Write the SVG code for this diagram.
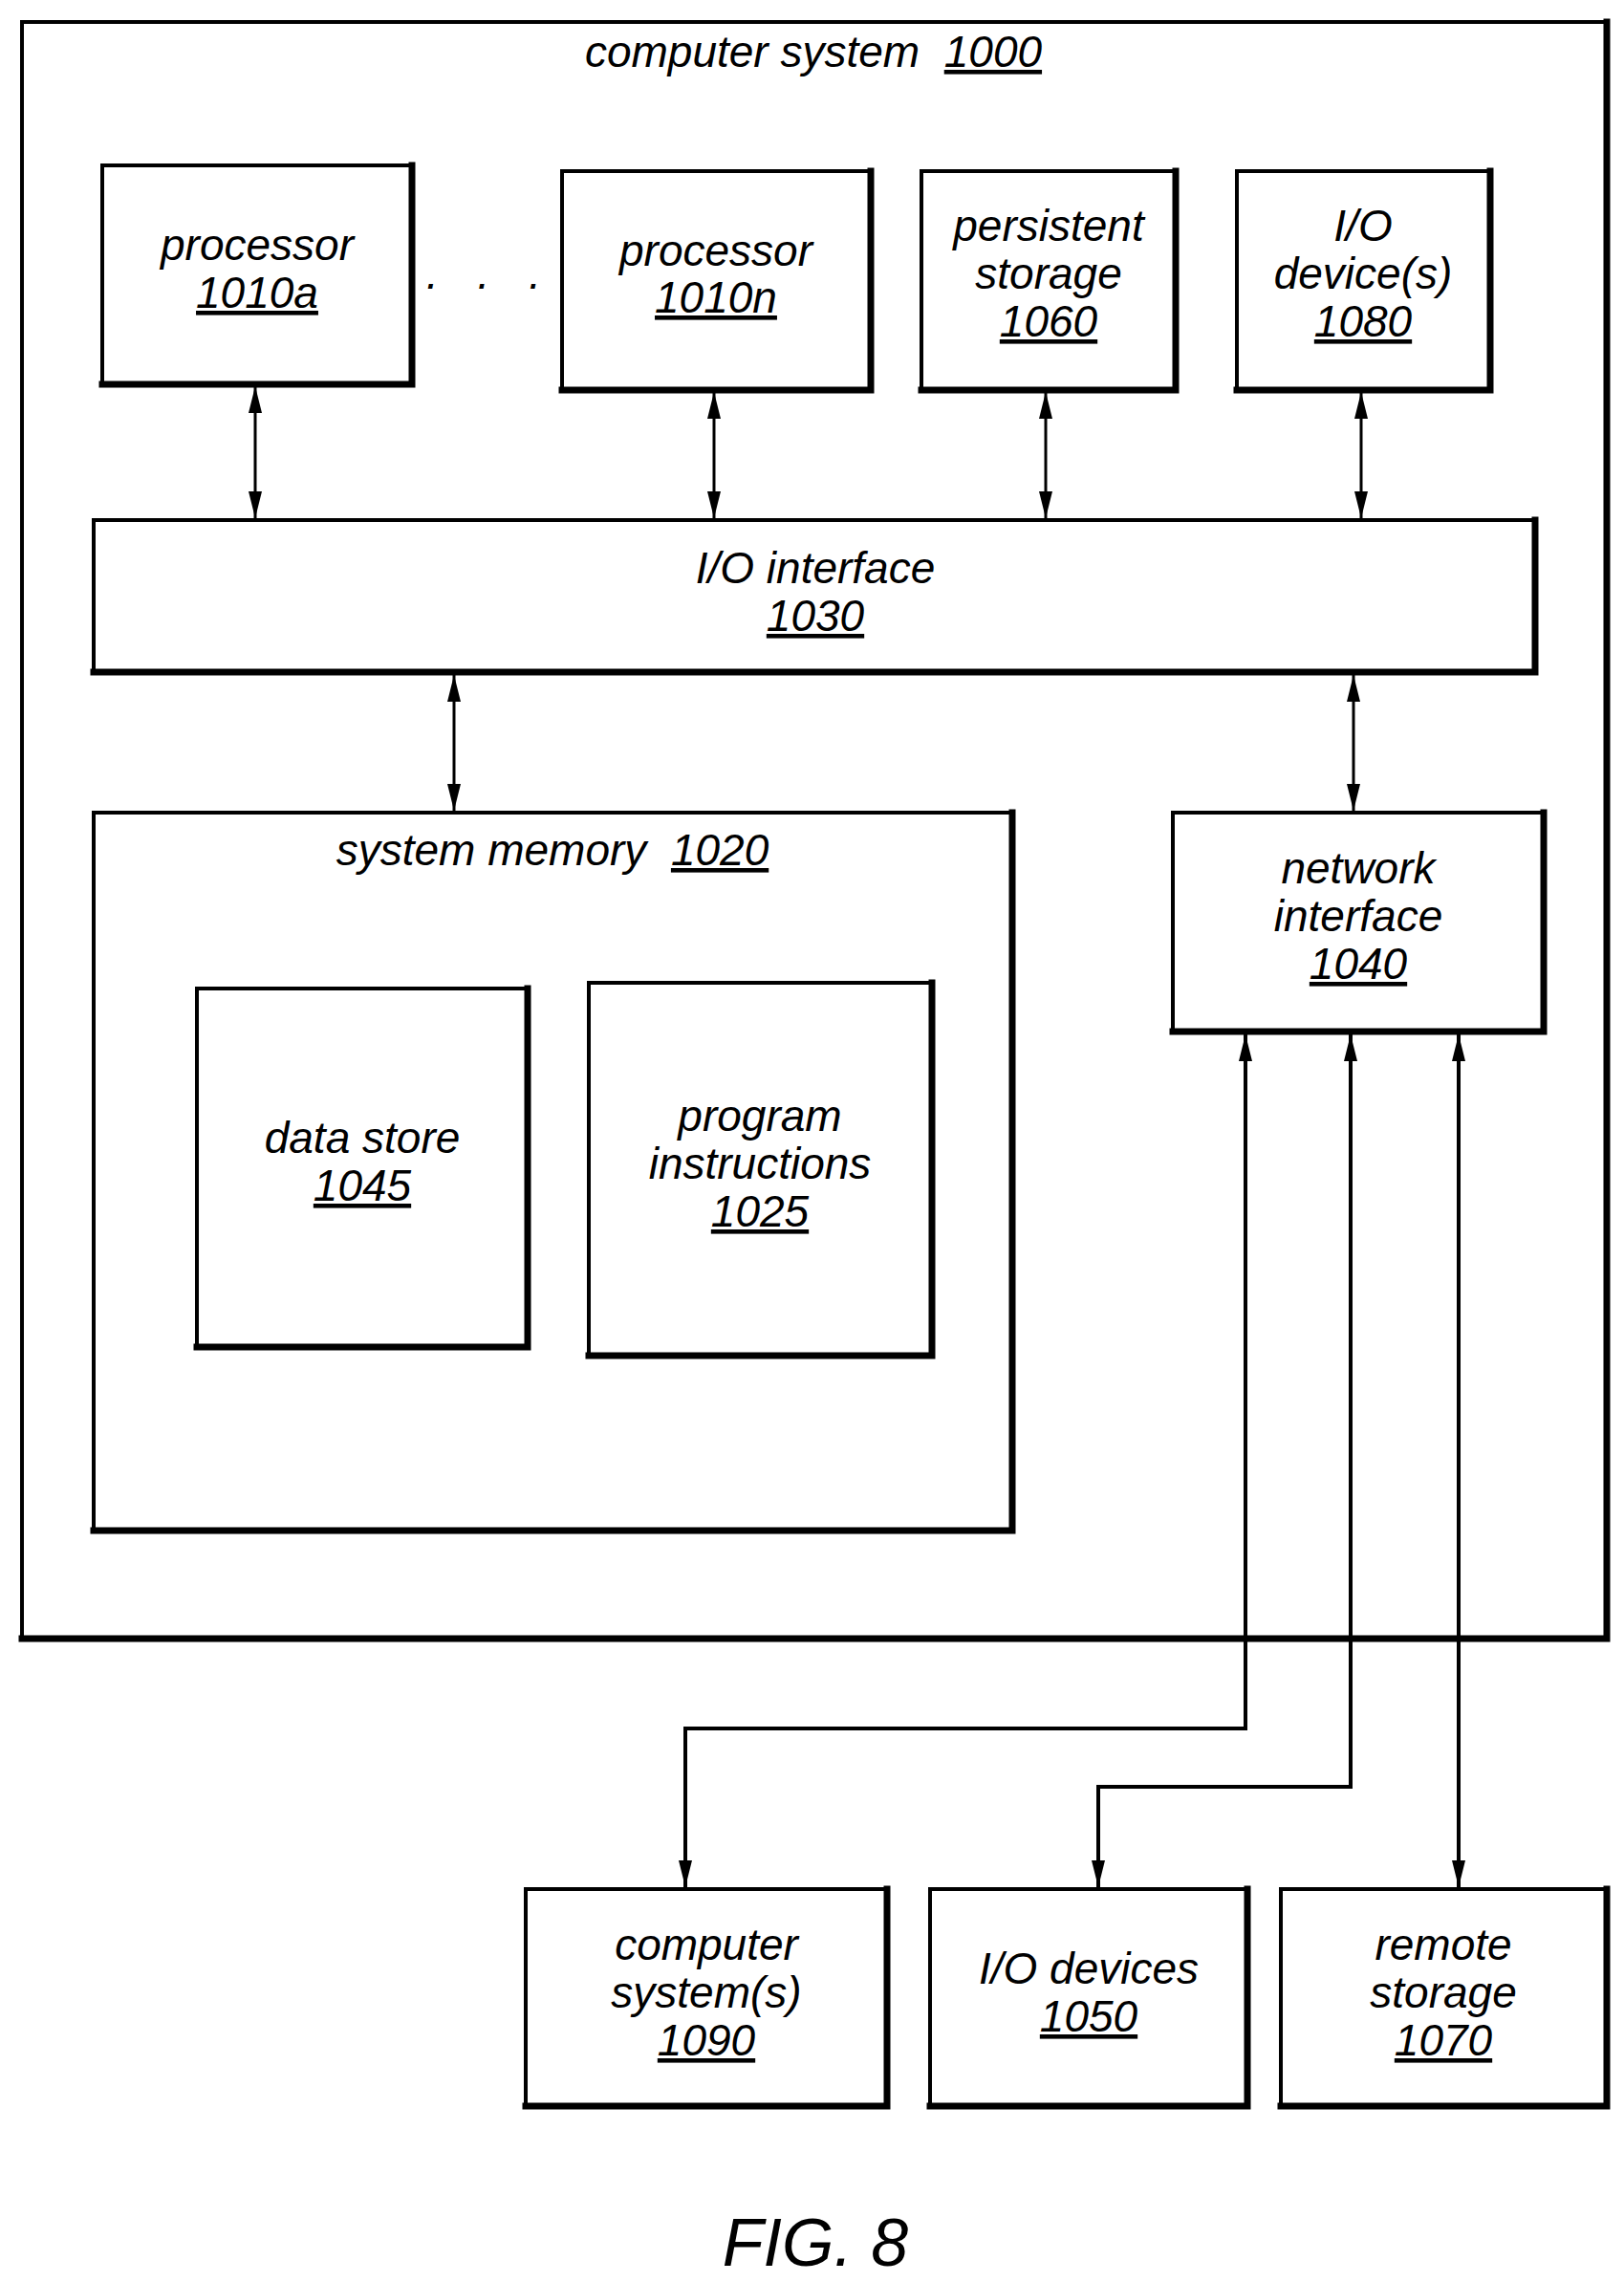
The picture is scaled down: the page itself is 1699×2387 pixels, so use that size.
<svg xmlns="http://www.w3.org/2000/svg" width="1699" height="2387" viewBox="0 0 1699 2387">
<style>
.b{fill:none;stroke:#000;stroke-width:4}
.s{fill:none;stroke:#000;stroke-width:7;stroke-linecap:square}
.t{font-family:"Liberation Sans",Arial,sans-serif;font-style:italic;font-size:46px;text-anchor:middle;fill:#000;white-space:pre}
.u{text-decoration:underline}
.c{fill:none;stroke:#000;stroke-width:3}
.c2{fill:none;stroke:#000;stroke-width:4}
</style>
<defs>
<marker id="h" markerUnits="userSpaceOnUse" markerWidth="30" markerHeight="20" refX="28" refY="10" orient="auto-start-reverse" viewBox="0 0 30 20"><path d="M0 3 L28 10 L0 17 Z" fill="#000"/></marker>
</defs>
<rect width="1699" height="2387" fill="#fff"/>
<g id="computer-system-1000"><rect class="b" x="23" y="23" width="1658" height="1691"/><path class="s" d="M1681 23 V1714 H23"/><text class="t" x="851" y="70" xml:space="preserve">computer system  <tspan class="u">1000</tspan></text></g>
<g id="processor-1010a"><rect class="b" x="107" y="173" width="324" height="229"/><path class="s" d="M431 173 V402 H107"/><text class="t" x="269" y="272">processor</text><text class="t u" x="269" y="322">1010a</text></g>
<text class="t" x="504" y="312" xml:space="preserve">·   ·   ·</text>
<g id="processor-1010n"><rect class="b" x="588" y="179" width="323" height="229"/><path class="s" d="M911 179 V408 H588"/><text class="t" x="749" y="278">processor</text><text class="t u" x="749" y="327">1010n</text></g>
<g id="persistent-storage-1060"><rect class="b" x="964" y="179" width="266" height="229"/><path class="s" d="M1230 179 V408 H964"/><text class="t" x="1097" y="252">persistent</text><text class="t" x="1097" y="302">storage</text><text class="t u" x="1097" y="352">1060</text></g>
<g id="io-devices-1080"><rect class="b" x="1294" y="179" width="265" height="229"/><path class="s" d="M1559 179 V408 H1294"/><text class="t" x="1426" y="252">I/O</text><text class="t" x="1426" y="302">device(s)</text><text class="t u" x="1426" y="352">1080</text></g>
<g id="io-interface-1030"><rect class="b" x="98" y="544" width="1508" height="159"/><path class="s" d="M1606 544 V703 H98"/><text class="t" x="853" y="610">I/O interface</text><text class="t u" x="853" y="660">1030</text></g>
<g id="system-memory-1020"><rect class="b" x="98" y="850" width="961" height="751"/><path class="s" d="M1059 850 V1601 H98"/><text class="t" x="578" y="905" xml:space="preserve">system memory  <tspan class="u">1020</tspan></text></g>
<g id="data-store-1045"><rect class="b" x="206" y="1034" width="346" height="375"/><path class="s" d="M552 1034 V1409 H206"/><text class="t" x="379" y="1206">data store</text><text class="t u" x="379" y="1256">1045</text></g>
<g id="program-instructions-1025"><rect class="b" x="616" y="1028" width="359" height="390"/><path class="s" d="M975 1028 V1418 H616"/><text class="t" x="795" y="1183">program</text><text class="t" x="795" y="1233">instructions</text><text class="t u" x="795" y="1283">1025</text></g>
<g id="network-interface-1040"><rect class="b" x="1227" y="850" width="388" height="229"/><path class="s" d="M1615 850 V1079 H1227"/><text class="t" x="1421" y="924">network</text><text class="t" x="1421" y="974">interface</text><text class="t u" x="1421" y="1024">1040</text></g>
<g id="computer-systems-1090"><rect class="b" x="550" y="1976" width="378" height="227"/><path class="s" d="M928 1976 V2203 H550"/><text class="t" x="739" y="2050">computer</text><text class="t" x="739" y="2100">system(s)</text><text class="t u" x="739" y="2150">1090</text></g>
<g id="io-devices-1050"><rect class="b" x="973" y="1976" width="332" height="227"/><path class="s" d="M1305 1976 V2203 H973"/><text class="t" x="1139" y="2075">I/O devices</text><text class="t u" x="1139" y="2125">1050</text></g>
<g id="remote-storage-1070"><rect class="b" x="1340" y="1976" width="341" height="227"/><path class="s" d="M1681 1976 V2203 H1340"/><text class="t" x="1510" y="2050">remote</text><text class="t" x="1510" y="2100">storage</text><text class="t u" x="1510" y="2150">1070</text></g>
<g id="connectors">
<path class="c" d="M267 404 V542" marker-start="url(#h)" marker-end="url(#h)"/>
<path class="c" d="M747 410 V542" marker-start="url(#h)" marker-end="url(#h)"/>
<path class="c" d="M1094 410 V542" marker-start="url(#h)" marker-end="url(#h)"/>
<path class="c" d="M1424 410 V542" marker-start="url(#h)" marker-end="url(#h)"/>
<path class="c" d="M475 706 V848" marker-start="url(#h)" marker-end="url(#h)"/>
<path class="c" d="M1416 706 V848" marker-start="url(#h)" marker-end="url(#h)"/>
<path class="c2" d="M1303 1082 V1808 H717 V1974" marker-start="url(#h)" marker-end="url(#h)"/>
<path class="c2" d="M1413 1082 V1869 H1149 V1974" marker-start="url(#h)" marker-end="url(#h)"/>
<path class="c2" d="M1526 1082 V1974" marker-start="url(#h)" marker-end="url(#h)"/>
</g>
<text class="t" x="853" y="2370" style="font-size:70px">FIG. 8</text>
</svg>
